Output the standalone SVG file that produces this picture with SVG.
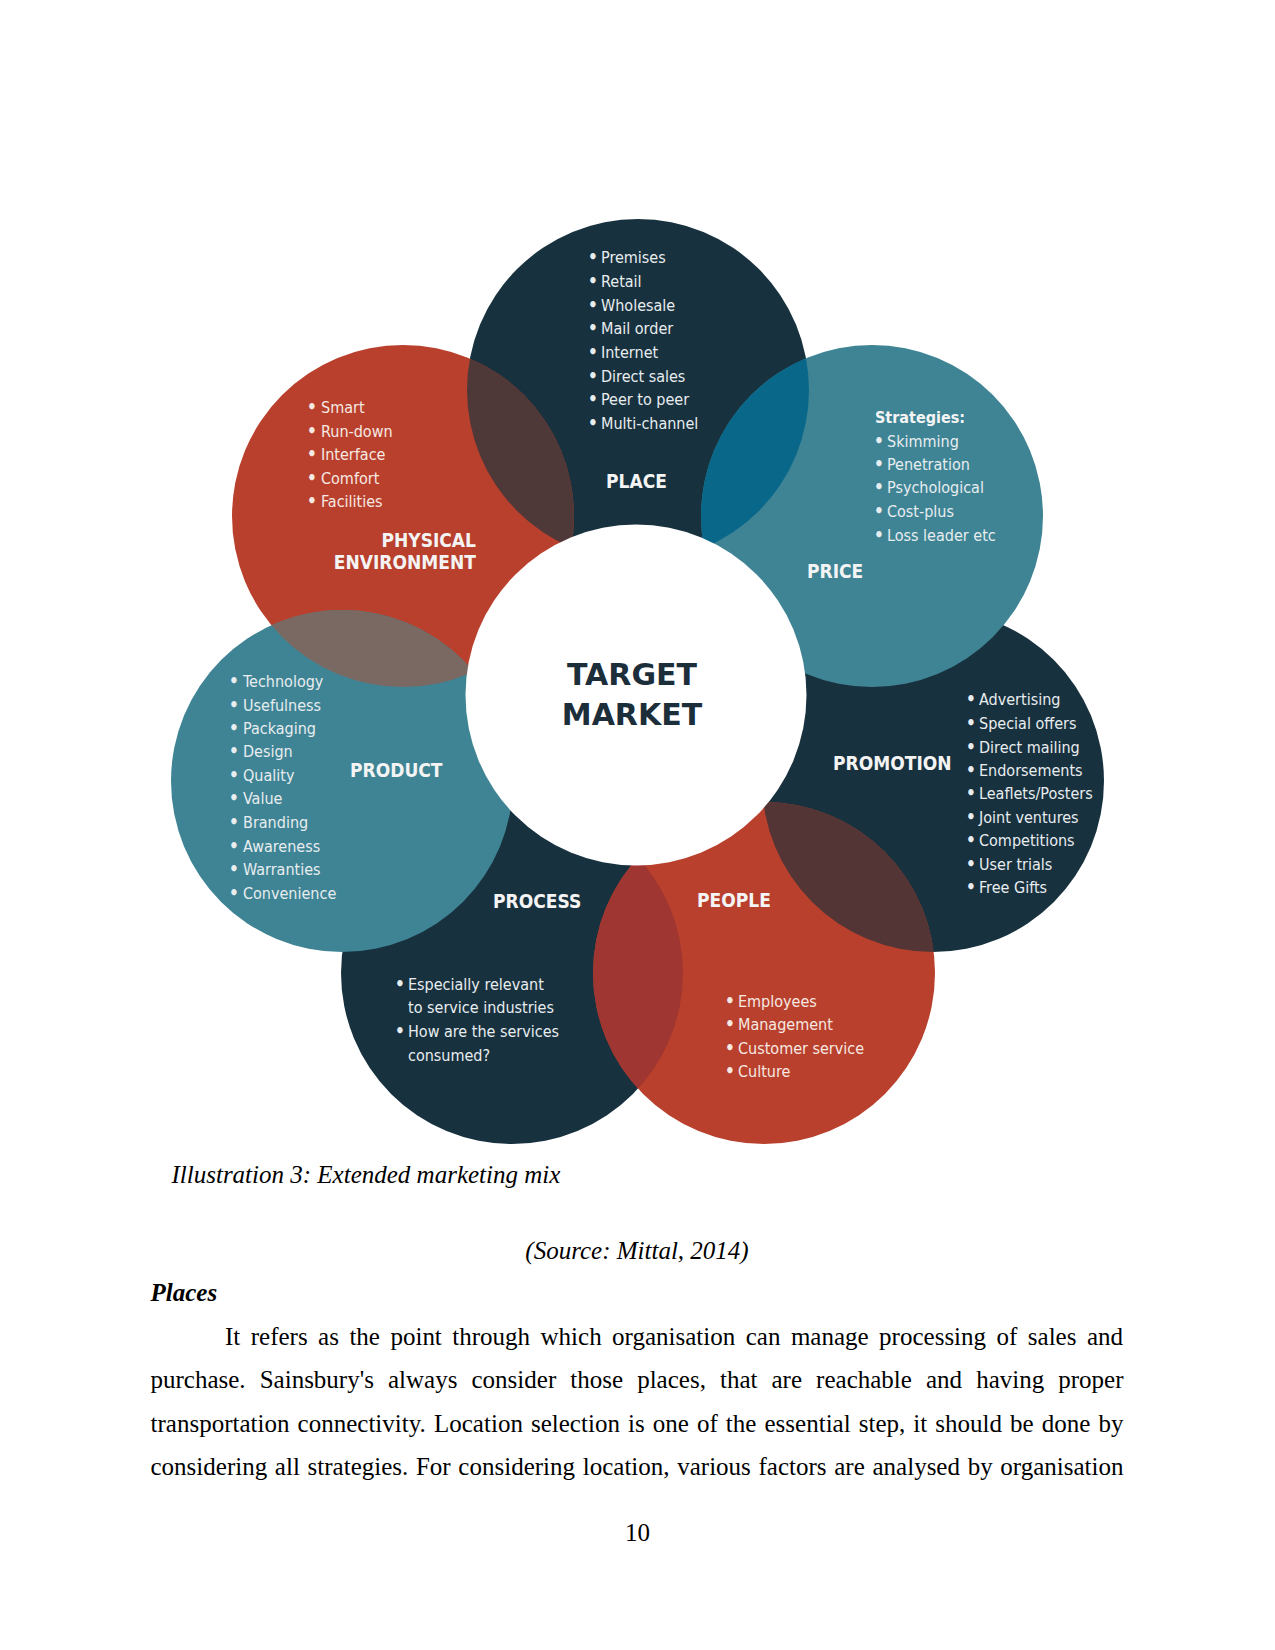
<svg xmlns="http://www.w3.org/2000/svg" width="1275" height="1650" viewBox="0 0 1275 1650">
<style>
.li{font-family:'DejaVu Sans Condensed','DejaVu Sans',sans-serif;font-stretch:condensed;font-size:16px;fill:#e8edf0}
.lr{font-family:'DejaVu Sans Condensed','DejaVu Sans',sans-serif;font-stretch:condensed;font-size:16px;fill:#f6e9e3}
.bu{text-anchor:middle;font-size:17px;font-weight:bold}
.lb{font-family:'DejaVu Sans Condensed','DejaVu Sans',sans-serif;font-stretch:condensed;font-weight:bold;font-size:19px;fill:#f4f4f4}
.sb{font-family:'DejaVu Sans Condensed','DejaVu Sans',sans-serif;font-stretch:condensed;font-weight:bold;font-size:16px;fill:#f4f4f4}
.tm{font-family:'DejaVu Sans',sans-serif;font-weight:bold;font-size:30px;fill:#1d2e3b;text-anchor:middle}
.body{font-family:'Liberation Serif','Times New Roman',serif;font-size:25px;fill:#000}
.navy{fill:#18313e}
.red{fill:#b9402c}
.teal{fill:#3f8494}
</style>
<defs>
<clipPath id="cPlace"><circle cx="638" cy="390" r="171"/></clipPath>
<clipPath id="cPromotion"><circle cx="933" cy="781" r="171"/></clipPath>
<clipPath id="cProcess"><circle cx="512" cy="973" r="171"/></clipPath>
<clipPath id="cPhysical"><circle cx="403" cy="516" r="171"/></clipPath>
</defs>

<g id="promotion">
<circle class="navy" cx="933" cy="781" r="171"/>
<text class="lb" x="833" y="770">PROMOTION</text>
<g class="li">
<text class="bu" x="971" y="705">•</text><text x="979" y="705">Advertising</text>
<text class="bu" x="971" y="729">•</text><text x="979" y="729">Special offers</text>
<text class="bu" x="971" y="753">•</text><text x="979" y="753">Direct mailing</text>
<text class="bu" x="971" y="776">•</text><text x="979" y="776">Endorsements</text>
<text class="bu" x="971" y="799">•</text><text x="979" y="799">Leaflets/Posters</text>
<text class="bu" x="971" y="823">•</text><text x="979" y="823">Joint ventures</text>
<text class="bu" x="971" y="846">•</text><text x="979" y="846">Competitions</text>
<text class="bu" x="971" y="870">•</text><text x="979" y="870">User trials</text>
<text class="bu" x="971" y="893">•</text><text x="979" y="893">Free Gifts</text>
</g>
</g>

<g id="process">
<circle class="navy" cx="512" cy="973" r="171"/>
<text class="lb" x="493" y="908">PROCESS</text>
<g class="li">
<text class="bu" x="400" y="990">•</text><text x="408" y="990">Especially relevant</text>
<text x="408" y="1013">to service industries</text>
<text class="bu" x="400" y="1037">•</text><text x="408" y="1037">How are the services</text>
<text x="408" y="1061">consumed?</text>
</g>
</g>

<g id="place">
<circle class="navy" cx="638" cy="390" r="171"/>
<text class="lb" x="606" y="488">PLACE</text>
<g class="li">
<text class="bu" x="593" y="263">•</text><text x="601" y="263">Premises</text>
<text class="bu" x="593" y="287">•</text><text x="601" y="287">Retail</text>
<text class="bu" x="593" y="311">•</text><text x="601" y="311">Wholesale</text>
<text class="bu" x="593" y="334">•</text><text x="601" y="334">Mail order</text>
<text class="bu" x="593" y="358">•</text><text x="601" y="358">Internet</text>
<text class="bu" x="593" y="382">•</text><text x="601" y="382">Direct sales</text>
<text class="bu" x="593" y="405">•</text><text x="601" y="405">Peer to peer</text>
<text class="bu" x="593" y="429">•</text><text x="601" y="429">Multi-channel</text>
</g>
</g>

<g id="price">
<circle class="teal" cx="872" cy="516" r="171"/>
<text class="sb" x="875" y="423">Strategies:</text>
<g class="li">
<text class="bu" x="879" y="447">•</text><text x="887" y="447">Skimming</text>
<text class="bu" x="879" y="470">•</text><text x="887" y="470">Penetration</text>
<text class="bu" x="879" y="493">•</text><text x="887" y="493">Psychological</text>
<text class="bu" x="879" y="517">•</text><text x="887" y="517">Cost-plus</text>
<text class="bu" x="879" y="541">•</text><text x="887" y="541">Loss leader etc</text>
</g>
<text class="lb" x="807" y="578">PRICE</text>
</g>

<g id="physical-environment">
<circle class="red" cx="403" cy="516" r="171"/>
<g class="lr">
<text class="bu" x="312" y="413">•</text><text x="321" y="413">Smart</text>
<text class="bu" x="312" y="437">•</text><text x="321" y="437">Run-down</text>
<text class="bu" x="312" y="460">•</text><text x="321" y="460">Interface</text>
<text class="bu" x="312" y="484">•</text><text x="321" y="484">Comfort</text>
<text class="bu" x="312" y="507">•</text><text x="321" y="507">Facilities</text>
</g>
<text class="lb" x="476" y="547" text-anchor="end">PHYSICAL</text>
<text class="lb" x="476" y="569" text-anchor="end">ENVIRONMENT</text>
</g>

<g id="product">
<circle class="teal" cx="342" cy="781" r="171"/>
<text class="lb" x="350" y="777">PRODUCT</text>
<g class="li">
<text class="bu" x="234" y="687">•</text><text x="243" y="687">Technology</text>
<text class="bu" x="234" y="711">•</text><text x="243" y="711">Usefulness</text>
<text class="bu" x="234" y="734">•</text><text x="243" y="734">Packaging</text>
<text class="bu" x="234" y="757">•</text><text x="243" y="757">Design</text>
<text class="bu" x="234" y="781">•</text><text x="243" y="781">Quality</text>
<text class="bu" x="234" y="804">•</text><text x="243" y="804">Value</text>
<text class="bu" x="234" y="828">•</text><text x="243" y="828">Branding</text>
<text class="bu" x="234" y="852">•</text><text x="243" y="852">Awareness</text>
<text class="bu" x="234" y="875">•</text><text x="243" y="875">Warranties</text>
<text class="bu" x="234" y="899">•</text><text x="243" y="899">Convenience</text>
</g>
</g>

<g id="people">
<circle class="red" cx="764" cy="973" r="171"/>
<text class="lb" x="697" y="907">PEOPLE</text>
<g class="lr">
<text class="bu" x="730" y="1007">•</text><text x="738" y="1007">Employees</text>
<text class="bu" x="730" y="1030">•</text><text x="738" y="1030">Management</text>
<text class="bu" x="730" y="1054">•</text><text x="738" y="1054">Customer service</text>
<text class="bu" x="730" y="1077">•</text><text x="738" y="1077">Culture</text>
</g>
</g>

<g id="overlaps">
<circle cx="403" cy="516" r="171" fill="#4f3838" clip-path="url(#cPlace)"/>
<circle cx="872" cy="516" r="171" fill="#09688a" clip-path="url(#cPlace)"/>
<circle cx="342" cy="781" r="171" fill="#7a6963" clip-path="url(#cPhysical)"/>
<circle cx="764" cy="973" r="171" fill="#533535" clip-path="url(#cPromotion)"/>
<circle cx="764" cy="973" r="171" fill="#9f3631" clip-path="url(#cProcess)"/>
</g>

<g id="connectors"></g>

<g id="target-market">
<circle cx="636" cy="695" r="170.5" fill="#ffffff"/>
<text class="tm" x="632" y="685">TARGET</text>
<text class="tm" x="632" y="725">MARKET</text>
</g>

<g id="page-text" class="body">
<text x="171.5" y="1183" font-style="italic">Illustration 3: Extended marketing mix</text>
<text x="637" y="1259" font-style="italic" text-anchor="middle">(Source: Mittal, 2014)</text>
<text x="150.5" y="1301" font-style="italic" font-weight="bold">Places</text>
<text x="225" y="1345" word-spacing="4.2" textLength="898" lengthAdjust="spacing">It refers as the point through which organisation can manage processing of sales and</text>
<text x="150.5" y="1388" word-spacing="7.8" textLength="973" lengthAdjust="spacing">purchase. Sainsbury's always consider those places, that are reachable and having proper</text>
<text x="150.5" y="1431.5" word-spacing="1.8" textLength="973" lengthAdjust="spacing">transportation connectivity. Location selection is one of the essential step, it should be done by</text>
<text x="150.5" y="1474.5" word-spacing="1.4" textLength="973" lengthAdjust="spacing">considering all strategies. For considering location, various factors are analysed by organisation</text>
<text x="637.5" y="1541" text-anchor="middle">10</text>
</g>
</svg>
